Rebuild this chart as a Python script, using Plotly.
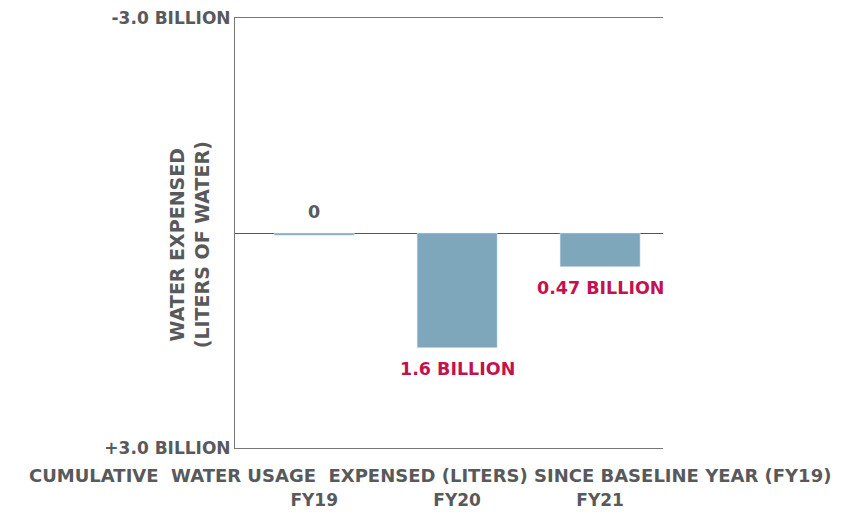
import plotly.graph_objects as go

# Data (billions of liters, positive = expensed)
years = ["FY19", "FY20", "FY21"]
values = [0.03, 1.6, 0.47]
value_labels = ["0", "1.6 BILLION", "0.47 BILLION"]
label_colors = ["#58595b", "#c2124f", "#c2124f"]
y_ticks = [-3, 3]
y_tick_labels = ["-3.0 BILLION", "+3.0 BILLION"]

grey = "#58595b"
font = "DejaVu Sans"

x = list(range(len(years)))

fig = go.Figure()
fig.add_trace(go.Bar(
    x=x,
    y=values,
    width=0.56,
    marker=dict(color="#7ea7bb"),
    hoverinfo="skip",
))

# value labels, above the zero bar and below the others
for xi, v, lab, col in zip(x, values, value_labels, label_colors):
    fig.add_annotation(
        x=xi, y=v if v > 0.1 else 0, text=f"<b>{lab}</b>", showarrow=False,
        yshift=-21 if v > 0.1 else 21,
        font=dict(family=font, size=17.5, color=col),
    )

fig.add_annotation(
    xref="paper", yref="paper", x=0.455, y=0, yshift=-27,
    xanchor="center", yanchor="middle",
    text="<b>CUMULATIVE  WATER USAGE  EXPENSED (LITERS) SINCE BASELINE YEAR (FY19)</b>",
    showarrow=False, font=dict(family=font, size=18, color=grey),
)
fig.add_annotation(
    xref="paper", yref="paper", x=-0.107, y=0.472, textangle=-90,
    xanchor="center", yanchor="middle",
    text="<b>WATER EXPENSED<br>(LITERS OF WATER)</b>",
    showarrow=False, font=dict(family=font, size=19, color=grey),
)

# page body adds an 8px offset, so the figure is drawn 8px smaller
fig.update_layout(
    width=835, height=504,
    margin=dict(l=227, r=180, t=10, b=64),
    plot_bgcolor="white", paper_bgcolor="white",
    showlegend=False,
)
fig.update_xaxes(
    range=[-0.554, 2.44], tickvals=x, ticktext=[f"<b>{y}</b>" for y in years],
    tickfont=dict(family=font, size=17, color=grey),
    ticklabelstandoff=37, ticks="", automargin=False, ticklabeloverflow="allow",
    showgrid=False, showline=True, mirror=True, linecolor="#777", zeroline=False,
)
fig.update_yaxes(
    range=[3, -3], tickvals=y_ticks, ticktext=[f"<b>{t}</b>" for t in y_tick_labels],
    tickfont=dict(family=font, size=17, color=grey),
    automargin=False, ticklabeloverflow="allow",
    showgrid=False, showline=True, linecolor="#777",
    zeroline=True, zerolinecolor="#555", zerolinewidth=1, ticks="",
)

fig.write_html("out.html")
